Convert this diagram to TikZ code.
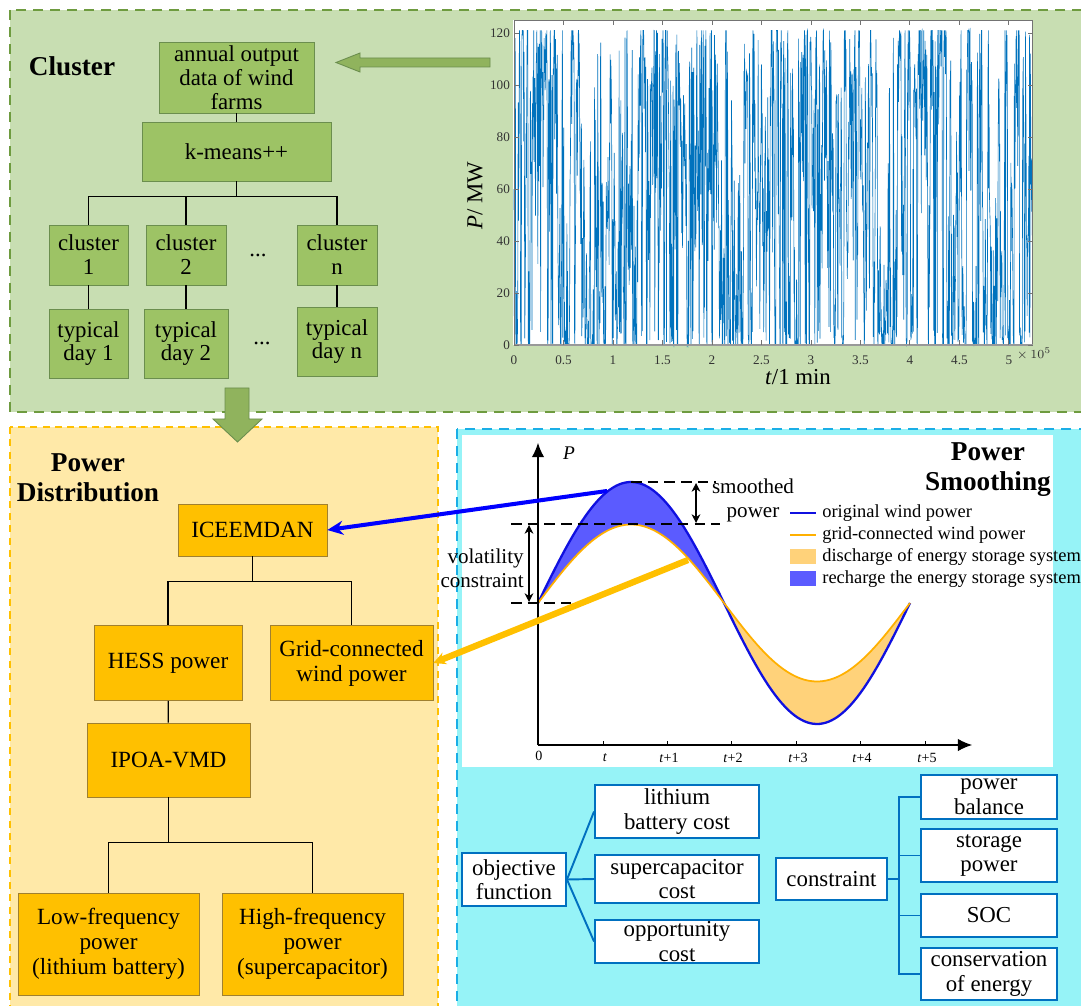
\documentclass[tikz,border=0pt]{standalone}
\usepackage{fontspec}
\setmainfont{Liberation Serif}
\usetikzlibrary{arrows.meta}

\definecolor{clufill}{HTML}{C8DEB2}
\definecolor{cluedge}{HTML}{6E9B3F}
\definecolor{clubox}{HTML}{9DC365}
\definecolor{cluboxedge}{HTML}{6B8E4E}
\definecolor{pdfill}{HTML}{FFE9A8}
\definecolor{pdedge}{HTML}{FFC000}
\definecolor{pdbox}{HTML}{FFC000}
\definecolor{pdboxedge}{HTML}{A08030}
\definecolor{smfill}{HTML}{96F3F7}
\definecolor{smedge}{HTML}{1AAEE6}
\definecolor{optblue}{HTML}{0070C0}
\definecolor{tsblue}{HTML}{0072BD}
\definecolor{rechfill}{HTML}{5B5BFF}
\definecolor{dischfill}{HTML}{FFD27A}
\definecolor{origblue}{HTML}{1010E0}
\definecolor{gridorange}{HTML}{FFB000}

\tikzset{
  clupanel/.style={draw=cluedge, fill=clufill, line width=0.85pt, dash pattern=on 5.7pt off 4pt},
  pdpanel/.style={draw=pdedge, fill=pdfill, line width=0.8pt, dash pattern=on 4pt off 3pt},
  smpanel/.style={draw=smedge, fill=smfill, line width=1.4pt, dash pattern=on 5.7pt off 4pt},
  heading/.style={font=\fontsize{15.5}{17}\selectfont\bfseries, align=center},
  clunode/.style={draw=cluboxedge, fill=clubox, align=center, inner sep=0pt, font=\fontsize{13}{13.6}\selectfont},
  pdnode/.style={draw=pdboxedge, fill=pdbox, align=center, inner sep=0pt, font=\fontsize{13.2}{14.2}\selectfont},
  optnode/.style={draw=optblue, line width=1.1pt, fill=white, align=center, inner sep=0pt, font=\fontsize{13}{14}\selectfont},
  treeline/.style={draw=black, line width=0.7pt},
  optline/.style={draw=optblue, line width=1.1pt},
  blockarrow/.style={fill=clubox!92!black, draw=cluboxedge, line width=0.5pt},
  tsline/.style={draw=tsblue, line width=0.35pt},
  tsframe/.style={draw=black!55, line width=0.5pt},
  tslabel/.style={font=\fontsize{7.5}{8}\selectfont, text=black!80, inner sep=1pt},
  axislabel/.style={font=\fontsize{8}{9}\selectfont, inner sep=0pt},
  legtext/.style={font=\fontsize{10.5}{12}\selectfont, anchor=west, inner sep=0pt},
  annot/.style={font=\fontsize{12}{13.6}\selectfont, inner sep=0pt},
}

\begin{document}
\begin{tikzpicture}[x=0.02cm,y=-0.02cm]
\useasboundingbox (0,0) rectangle (1081,1006);

% the three panels
\draw[clupanel] (10,10) rectangle (1090,412);
\draw[pdpanel] (10,427) rectangle (438,1015);
\draw[smpanel] (457,429) rectangle (1090,1015);

% Cluster
\node[heading] (cluhead) at (72,66) {Cluster};
\node[clunode, minimum width=3.1cm, minimum height=1.42cm] (annual) at (236.5,77.5) {annual output\\data of wind\\farms};
\node[clunode, minimum width=3.78cm, minimum height=1.18cm] (kmeans) at (236.5,151.5) {k-means++};
\node[clunode, minimum width=1.58cm, minimum height=1.2cm] (c1) at (88.5,255) {cluster\\1};
\node[clunode, minimum width=1.6cm, minimum height=1.2cm] (c2) at (186,255) {cluster\\2};
\node[clunode, minimum width=1.6cm, minimum height=1.2cm] (cn) at (337,255) {cluster\\n};
\node[clunode, minimum width=1.58cm, minimum height=1.38cm] (t1) at (88.5,343.5) {typical\\day 1};
\node[clunode, minimum width=1.68cm, minimum height=1.38cm] (t2) at (186,343.5) {typical\\day 2};
\node[clunode, minimum width=1.6cm, minimum height=1.38cm] (tn) at (337,341.5) {typical\\day n};
\node[font=\fontsize{13}{14}\selectfont] (dots1) at (258,255) {...};
\node[font=\fontsize{13}{14}\selectfont] (dots2) at (262,343) {...};

\draw[treeline] (annual) -- (kmeans);
\draw[treeline] (kmeans.south) -- ++(0,15) coordinate (kbr);
\foreach \c in {c1,c2,cn}{
  \draw[treeline] (kbr) -| (\c.north);
}
\draw[treeline] (c1) -- (t1);
\draw[treeline] (c2) -- (t2);
\draw[treeline] (cn) -- (tn);

% wind farm output series
\begin{scope}[shift={(514,345)}, x=1.98cm, y=0.052cm]
\fill[white] (-0.01,0) rectangle (5.24,125);
\pgfmathsetseed{2718}
\xdef\wv{60}
\draw[tsline] (0,60) \foreach \i in {1,...,1500}{
  \pgfextra{%
    \pgfmathsetmacro\wt{45+40*sin(\i*1.3)+20*sin(\i*4.1+30)}%
    \pgfmathsetmacro\wp{0.07+0.12*(0.5+0.5*sin(\i*0.9+60))}%
    \pgfmathsetmacro\wr{rnd}%
    \pgfmathsetmacro\wn{\wr<\wp ? 92+29*rnd : (\wr<\wp+0.1 ? 6*rnd : max(0,min(121,\wv+0.15*(\wt-\wv)+90*(rnd-0.5))))}%
    \xdef\wv{\wn}}
  -- ({\i*5.24/1500},\wv)};
\draw[tsframe] (0,0) rectangle (5.24,125);
\draw[draw=black!40, line width=1pt] (0,0) -- (5.24,0);
\foreach \k in {0,20,40,60,80,100,120}{
  \draw[tsframe] (0,\k) -- ++(0.05,0);
  \draw[tsframe] (5.24,\k) -- ++(-0.05,0);
  \node[tslabel, anchor=east] at (-0.02,\k) {\k};
}
\foreach \k in {0,0.5,1,1.5,2,2.5,3,3.5,4,4.5,5}{
  \draw[tsframe] (\k,0) -- ++(0,2);
  \draw[tsframe] (\k,125) -- ++(0,-2);
  \node[tslabel, anchor=north] at (\k,-3.5) {\k};
}
\node[tslabel, anchor=west] at (5.06,-3.5) {$\times\,10^{5}$};
\end{scope}
\node[font=\fontsize{13}{14}\selectfont] (tlabel) at (798,377) {\textit{t}/1 min};
\node[font=\fontsize{13}{14}\selectfont, rotate=90] (plabel) at (475,196) {\textit{P}/ MW};

\fill[blockarrow] (490,58) -- (360,58) -- (360,53) -- (336,62.5) -- (360,72) -- (360,67) -- (490,67) -- cycle;
\fill[blockarrow] (225,388) -- (249,388) -- (249,419) -- (262,419) -- (237.5,442) -- (213,419) -- (225,419) -- cycle;

% Power Distribution
\node[heading] (pdhead) at (88,478) {Power\\Distribution};
\node[pdnode, minimum width=2.98cm, minimum height=1.04cm] (ice) at (252.5,530) {ICEEMDAN};
\node[pdnode, minimum width=2.96cm, minimum height=1.5cm] (hess) at (168,663) {HESS power};
\node[pdnode, minimum width=3.26cm, minimum height=1.5cm] (grid) at (351.5,663) {Grid-connected\\wind power};
\node[pdnode, minimum width=3.26cm, minimum height=1.48cm] (ipoa) at (168.5,760) {IPOA-VMD};
\node[pdnode, minimum width=3.62cm, minimum height=2.04cm] (low) at (108.5,944) {Low-frequency\\power\\(lithium battery)};
\node[pdnode, minimum width=3.62cm, minimum height=2.04cm] (high) at (312.5,944) {High-frequency\\power\\(supercapacitor)};

\draw[treeline] (ice.south) -- ++(0,25) coordinate (ibr);
\draw[treeline] (ibr) -| (hess.north);
\draw[treeline] (ibr) -| (grid.north);
\draw[treeline] (hess) -- (ipoa);
\draw[treeline] (ipoa.south) -- ++(0,45) coordinate (vbr);
\draw[treeline] (vbr) -| (low.north);
\draw[treeline] (vbr) -| (high.north);

% Power Smoothing
\fill[white] (462,435) rectangle (1053,767);
\fill[rechfill] plot[domain=0:186, samples=60] ({538+\x},{603-121*sin(0.96774*\x)})
  -- plot[domain=186:0, samples=60] ({538+\x},{603-79*sin(0.96774*\x)}) -- cycle;
\fill[dischfill] plot[domain=186:372, samples=60] ({538+\x},{603-121*sin(0.96774*\x)})
  -- plot[domain=372:186, samples=60] ({538+\x},{603-78*sin(0.96774*\x)}) -- cycle;
\draw[origblue, line width=1.3pt] plot[domain=0:372, samples=120] ({538+\x},{603-121*sin(0.96774*\x)});
\draw[gridorange, line width=1pt] plot[domain=0:372, samples=120] ({538+\x},{603-78.5*sin(0.96774*\x)});

\draw[line width=0.6pt, -{Latex[length=8pt,width=7pt]}] (538,745) -- (538,443);
\draw[line width=0.6pt, -{Latex[length=8pt,width=7pt]}] (538,745) -- (972,745);
\node[font=\fontsize{11}{12}\selectfont\itshape] (paxis) at (569,453) {P};
\node[axislabel] (tick0) at (539,756) {0};
\foreach \tx/\tl in {603/\textit{t}, 667/\textit{t}+1, 731/\textit{t}+2, 796/\textit{t}+3, 860/\textit{t}+4, 925/\textit{t}+5}{
  \draw[line width=0.4pt] (\tx,745) -- (\tx,741);
  \node[axislabel] at (\tx+2,758) {\tl};
}

\draw[line width=0.7pt, dash pattern=on 6pt off 3.5pt] (631,482) -- (716,482);
\draw[line width=0.7pt, dash pattern=on 6pt off 3.5pt] (511,524) -- (720,524);
\draw[line width=0.7pt, dash pattern=on 6pt off 3.5pt] (511,603) -- (571,603);
\draw[line width=0.7pt, {Stealth[length=5pt,width=5pt]}-{Stealth[length=5pt,width=5pt]}] (696,483) -- (696,523);
\draw[line width=0.7pt, {Stealth[length=5pt,width=5pt]}-{Stealth[length=5pt,width=5pt]}] (529,525) -- (529,602);
\node[annot, align=center] (smoothed) at (753,500) {smoothed\\power};
\node[annot, align=right, anchor=east] (volat) at (524,568) {volatility\\constraint};

\node[heading] (smhead) at (988,470) {Power\\Smoothing};

\draw[origblue, line width=1.1pt] (790,513) -- (816,513);
\node[legtext] at (822,513) {original wind power};
\draw[gridorange, line width=1pt] (790,535) -- (816,535);
\node[legtext] at (822,535) {grid-connected wind power};
\fill[dischfill] (790,549) rectangle (816,564);
\node[legtext] at (822,557) {discharge of energy storage system};
\fill[rechfill] (790,571) rectangle (816,586);
\node[legtext] at (822,579) {recharge the energy storage system};

% optimisation model
\node[optnode, minimum width=2.08cm, minimum height=1.06cm] (obj) at (514,879.5) {objective\\function};
\node[optnode, minimum width=3.28cm, minimum height=1.06cm] (lith) at (677,811.5) {lithium\\battery cost};
\node[optnode, minimum width=3.28cm, minimum height=0.96cm] (supc) at (677,879) {supercapacitor\\cost};
\node[optnode, minimum width=3.28cm, minimum height=0.86cm] (opp) at (677,941.5) {opportunity\\cost};
\node[optnode, minimum width=2.22cm, minimum height=0.84cm] (cons) at (831.5,879) {constraint};
\node[optnode, minimum width=2.72cm, minimum height=0.88cm] (pb) at (989,797) {power\\balance};
\node[optnode, minimum width=2.72cm, minimum height=1.06cm] (sp) at (989,855.5) {storage\\power};
\node[optnode, minimum width=2.72cm, minimum height=0.86cm] (soc) at (989,915.5) {SOC};
\node[optnode, minimum width=2.72cm, minimum height=1.04cm] (coe) at (989,974) {conservation\\of energy};

\foreach \b in {lith,supc,opp}{
  \draw[optline] (obj.east) -- (\b.west);
}
\draw[optline] (cons.east) -- ++(11,0) coordinate (cbus);
\foreach \b in {pb,sp,soc,coe}{
  \draw[optline] (cbus) |- (\b.west);
}

% links between the panels
\coordinate (recharge) at (607,491);
\coordinate (discharge) at (688,560);
\draw[line width=2.3pt, draw=blue, -{Stealth[length=9pt,width=8pt]}] (recharge) -- (ice.east);
\draw[line width=3.6pt, draw=pdedge, -{Stealth[length=7pt,width=7pt]}] (discharge) -- (grid.east);

\end{tikzpicture}
\end{document}
